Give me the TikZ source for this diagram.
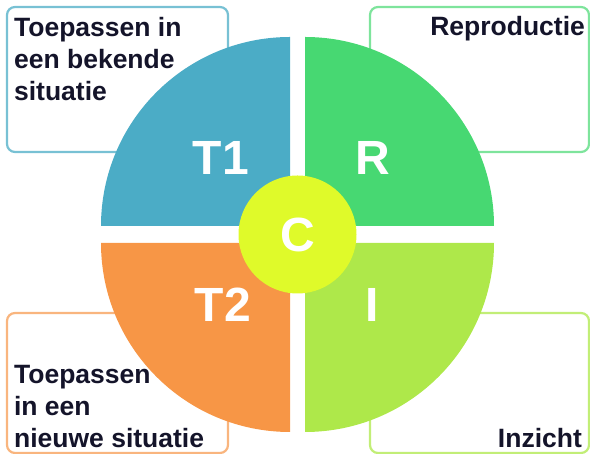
\documentclass[tikz,border=0pt]{standalone}
\usepackage{fontspec}
\setmainfont{Liberation Sans}
\usetikzlibrary{positioning}
\definecolor{tblue}{HTML}{4BACC6}
\definecolor{rgreen}{HTML}{47D872}
\definecolor{ilime}{HTML}{AEE84A}
\definecolor{torange}{HTML}{F79646}
\definecolor{cyellow}{HTML}{DFFA2A}
\definecolor{txt}{HTML}{14142A}

\begin{document}
\begin{tikzpicture}[x=1pt,y=1pt,
  labelbox/.style={draw, line width=2.2pt, rounded corners=8pt, fill=white, inner sep=0pt},
  boxtext/.style={inner sep=0pt, text=txt, align=left, font=\bfseries\fontsize{26.5}{32}\selectfont},
  quadtext/.style={text=white, inner sep=0pt, font=\bfseries\fontsize{48}{48}\selectfont}]
\useasboundingbox (0,0) rectangle (590,454);
% boxes behind the circle
\node [labelbox, draw=tblue!75, minimum width=221pt, minimum height=145pt] (boxtl) at (117.5,374.5) {};
\node [labelbox, draw=rgreen!70, minimum width=219pt, minimum height=145pt] (boxtr) at (479.5,374.5) {};
\node [labelbox, draw=torange!70, minimum width=221pt, minimum height=140pt] (boxbl) at (117.5,71) {};
\node [labelbox, draw=ilime!75, minimum width=219pt, minimum height=140pt] (boxbr) at (479.5,71) {};
\node [boxtext, anchor=north west] (ttl) at ([shift={(8,-11)}]boxtl.north west) {Toepassen in\\een bekende\\situatie};
\node [boxtext, anchor=base east] (ttr) at ([shift={(-5,-30)}]boxtr.north east) {Reproductie};
\node [boxtext, anchor=north west] (tbl) at ([shift={(8,-53)}]boxbl.north west) {Toepassen\\in een\\nieuwe situatie};
\node [boxtext, anchor=base east] (tbr) at ([shift={(-8,7)}]boxbr.south east) {Inzicht};
% quarters
\fill [tblue] (290,228) -- (101,228) arc (180:90:189) -- cycle;
\fill [rgreen] (305,228) -- (305,417) arc (90:0:189) -- cycle;
\fill [torange] (290,211) -- (290,22) arc (270:180:189) -- cycle;
\fill [ilime] (305,211) -- (494,211) arc (0:-90:189) -- cycle;
\node [circle, fill=cyellow, minimum size=118pt, inner sep=0pt] (core) at (297.5,219.5) {};
\node [quadtext] (qt1) at (221,296) {T1};
\node [quadtext] (qr) at (373,296) {R};
\node [quadtext] (qt2) at (223,149) {T2};
\node [quadtext] (qi) at (372,149) {I};
\node [quadtext] (qc) at (core) {C};
\end{tikzpicture}
\end{document}
